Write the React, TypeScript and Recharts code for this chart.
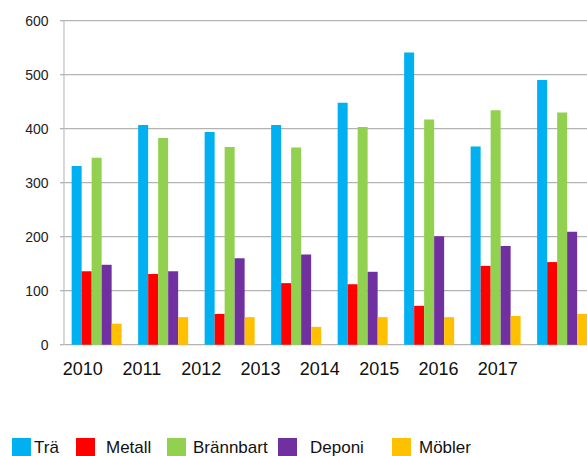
import { BarChart, Bar, XAxis, YAxis, CartesianGrid, Legend } from "recharts";

const years = ["2010", "2011", "2012", "2013", "2014", "2015", "2016", "2017"];
const tra = [331, 407, 394, 407, 448, 541, 367, 490];
const metall = [136, 131, 57, 114, 112, 72, 146, 153];
const brannbart = [346, 383, 366, 365, 403, 417, 434, 430];
const deponi = [148, 136, 160, 167, 135, 201, 183, 209];
const mobler = [39, 51, 51, 33, 51, 51, 53, 57];
const yTicks = [0, 100, 200, 300, 400, 500, 600];

const data = years.map((year, i) => ({
  year,
  tra: tra[i],
  metall: metall[i],
  brannbart: brannbart[i],
  deponi: deponi[i],
  mobler: mobler[i],
}));

const series = [
  { key: "tra", name: "Trä", color: "#00b0f0" },
  { key: "metall", name: "Metall", color: "#ff0000" },
  { key: "brannbart", name: "Brännbart", color: "#92d050" },
  { key: "deponi", name: "Deponi", color: "#7030a0" },
  { key: "mobler", name: "Möbler", color: "#ffc000" },
];

// legend spacing is uneven in the original
const legendWidths = [64, 91, 111, 114, 80];
const legendGaps = [3, 11, 7, 13, 8];

function LegendContent() {
  return (
    <div style={{ display: "flex", height: 18, paddingLeft: 12 }}>
      {series.map((s, i) => (
        <div key={s.key} style={{ width: legendWidths[i], display: "flex", flexShrink: 0 }}>
          <span style={{ width: 19, height: 18, background: s.color, display: "inline-block", flexShrink: 0 }} />
          <span
            style={{
              marginLeft: legendGaps[i],
              fontSize: 17,
              lineHeight: "18px",
              position: "relative",
              top: 1,
              color: "#111",
              whiteSpace: "nowrap",
            }}
          >
            {s.name}
          </span>
        </div>
      ))}
    </div>
  );
}

export default function App() {
  return (
    <div
      style={{
        position: "fixed",
        left: 0,
        top: 0,
        width: 587,
        height: 456,
        overflow: "hidden",
        background: "#fff",
        fontFamily: "'Liberation Sans', Arial, sans-serif",
      }}
    >
      <BarChart
        width={596}
        height={456}
        data={data}
        margin={{ top: 20.7, right: 0, left: 0, bottom: 0 }}
        barCategoryGap="11.5%"
        barGap={0}
      >
        <CartesianGrid xAxisId="bars" vertical={false} stroke="#b3b3b3" strokeWidth={1.3} />
        <XAxis xAxisId="bars" dataKey="year" hide height={0} />
        <XAxis
          xAxisId="labels"
          dataKey="year"
          interval={0}
          axisLine={false}
          tickLine={false}
          tickSize={0}
          tickMargin={18}
          height={93.3}
          padding={{ left: -11, right: 68.6 }}
          tick={{ fontSize: 18, fill: "#111" }}
        />
        <YAxis
          domain={[0, 600]}
          ticks={yTicks}
          width={64}
          axisLine={{ stroke: "#c4c4c4", strokeWidth: 1.3 }}
          tickLine={{ stroke: "#b3b3b3", strokeWidth: 1.3 }}
          tickSize={4}
          tickMargin={11.5}
          tick={{ fontSize: 14, fill: "#222" }}
        />
        <Legend verticalAlign="bottom" content={<LegendContent />} />
        {series.map((s) => (
          <Bar
            key={s.key}
            xAxisId="bars"
            dataKey={s.key}
            name={s.name}
            fill={s.color}
            isAnimationActive={false}
          />
        ))}
      </BarChart>
    </div>
  );
}
